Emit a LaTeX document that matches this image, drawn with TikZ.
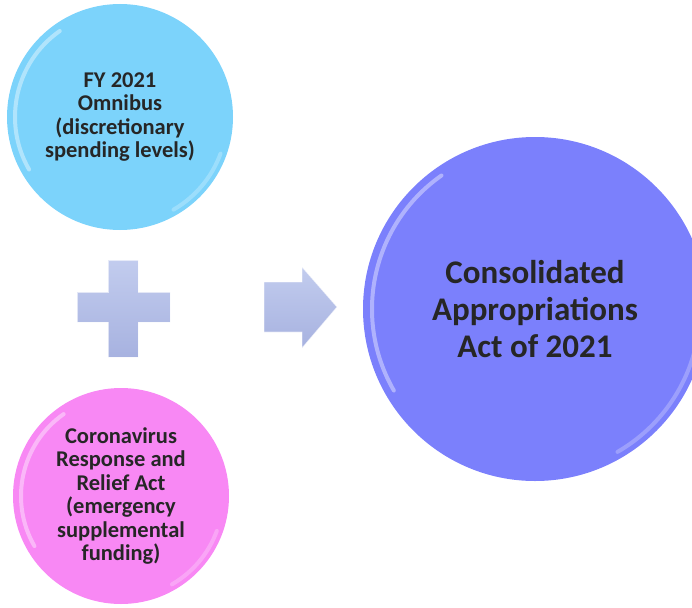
\documentclass[tikz,border=0pt]{standalone}
\usepackage{fontspec}
\setmainfont{Carlito}
\definecolor{skyc}{HTML}{7CD3FB}
\definecolor{pinkc}{HTML}{F888F4}
\definecolor{peric}{HTML}{7B80FC}
\definecolor{symtop}{HTML}{C2CCEE}
\definecolor{symbot}{HTML}{A7B2E0}
\definecolor{txt}{HTML}{262626}
\tikzset{
  bubble/.style={circle, inner sep=0pt, align=center, text=txt, font=\bfseries},
  smalltext/.style={font=\fontsize{22.5}{23.5}\selectfont\bfseries},
  bigtext/.style={font=\fontsize{33}{37}\selectfont\bfseries},
  gloss/.style={white, line cap=round, opacity=0.4, line width=4pt},
  symbol/.style={top color=symtop, bottom color=symbot, draw=white, draw opacity=0.6, line width=0.8pt}
}
\begin{document}
\begin{tikzpicture}[x=1pt,y=-1pt]
\useasboundingbox (0,0) rectangle (692,607);
\clip (0,0) rectangle (692,607);
% circles
\node[bubble, fill=skyc, minimum size=226pt, smalltext] (fy) at (120,117)
  {FY 2021\\Omnibus\\(discretionary\\spending levels)};
\node[bubble, fill=pinkc, minimum size=216pt, smalltext] (crr) at (121,496)
  {Coronavirus\\Response and\\Relief Act\\(emergency\\supplemental\\funding)};
\node[bubble, fill=peric, minimum size=344pt, bigtext] (caa) at (535,309)
  {Consolidated\\Appropriations\\Act of 2021};
% gloss highlights
\draw[gloss] (fy.center) ++(150:105) arc[start angle=150, end angle=235, radius=105];
\draw[gloss, opacity=0.25] (fy.center) ++(20:107) arc[start angle=20, end angle=60, radius=107];
\draw[gloss] (crr.center) ++(150:100) arc[start angle=150, end angle=235, radius=100];
\draw[gloss, opacity=0.25] (crr.center) ++(20:102) arc[start angle=20, end angle=60, radius=102];
\draw[gloss] (caa.center) ++(150:163) arc[start angle=150, end angle=235, radius=163];
\draw[gloss, opacity=0.25] (caa.center) ++(10:165) arc[start angle=10, end angle=60, radius=165];
% plus sign
\coordinate (plusc) at (123,308);
\path[symbol] (108,260) -- (138,260) -- (138,292) -- (170,292) -- (170,322) -- (138,322)
  -- (138,357) -- (108,357) -- (108,322) -- (77,322) -- (77,292) -- (108,292) -- cycle;
% arrow
\coordinate (arrc) at (300,307);
\path[symbol] (264,282) -- (302,282) -- (302,267) -- (337,307) -- (302,348) -- (302,332)
  -- (264,332) -- cycle;
\end{tikzpicture}
\end{document}
